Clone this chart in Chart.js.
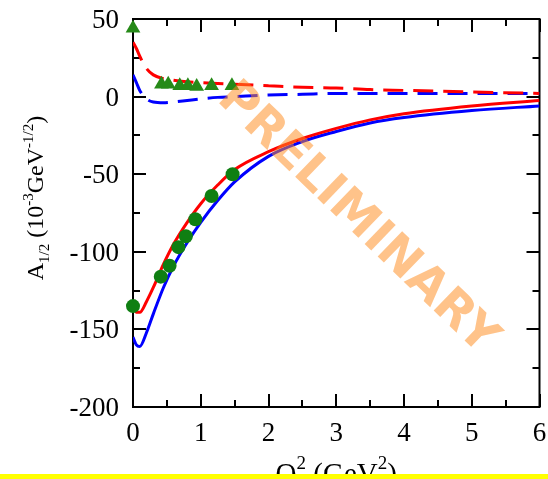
<!doctype html>
<html lang="en">

<head>
    <meta charset="utf-8">
    <title>A1/2 vs Q2</title>
    <script src="https://cdn.jsdelivr.net/npm/chart.js"></script>
    <style>
        body { margin: 0; background: #fff; }
        #wrap { position: relative; width: 548px; height: 479px; }
    </style>
</head>

<body>
    <div id="wrap"><canvas id="ampchart"></canvas></div>
</body>
<script>
    // Q^2 grid for the model curves (GeV^2)
    const q2Grid = [0, 0.05, 0.1, 0.2, 0.3, 0.45, 0.6, 0.8, 1.0, 1.25, 1.5, 2.0, 2.5, 3.0, 3.5, 4.0, 5.0, 6.0];
    const redSolid = [-135, -139, -139, -132, -123, -108, -95, -81, -69, -57, -47, -35.5, -27, -20.5, -15, -11, -6, -2.5];
    const blueSolid = [-155, -160, -161, -152, -140, -123, -109, -94, -81, -67, -55, -38.5, -29, -22.5, -17, -13.5, -9, -6];
    const redDashed = [35, 31, 26, 18, 14, 11.5, 10.5, 9.5, 9, 8.5, 8, 7, 6, 5.5, 4.5, 4, 3, 2];
    const blueDashed = [14, 9, 4, -1.5, -3.5, -4, -3.5, -2.5, -1.5, -0.5, 0, 1, 1.5, 2, 2, 2, 2, 2];

    // measured points
    const q2Circles = [0, 0.41, 0.54, 0.67, 0.78, 0.92, 1.16, 1.47];
    const a12Circles = [-135, -116, -109, -97, -90, -79, -64, -50];
    const q2Triangles = [0, 0.42, 0.52, 0.69, 0.81, 0.94, 1.16, 1.46];
    const valTriangles = [44, 8, 8, 7, 7, 6.5, 7, 7];

    const xTicks = [0, 1, 2, 3, 4, 5, 6];
    const yTicks = [50, 0, -50, -100, -150, -200];

    const serif = '"Liberation Serif", "DejaVu Serif", serif';

    let pairs = (xs, ys) => xs.map((x, i) => ({ x: x, y: ys[i] }));

    // text with sub/superscripts, drawn centred on (0,0)
    function drawRich(ctx, parts) {
        let total = 0;
        parts.forEach(p => {
            ctx.font = p.size + 'px ' + serif;
            p.w = ctx.measureText(p.t).width;
            total += p.w;
        });
        let x = -total / 2;
        parts.forEach(p => {
            ctx.font = p.size + 'px ' + serif;
            ctx.fillText(p.t, x, p.dy || 0);
            x += p.w;
        });
    }

    const framePlugin = {
        id: 'frame',
        beforeDatasetsDraw(chart) {
            const ctx = chart.ctx;
            const a = chart.chartArea;
            const xs = chart.scales.x, ys = chart.scales.y;
            ctx.save();
            ctx.strokeStyle = '#000';
            ctx.lineWidth = 2;
            ctx.strokeRect(a.left, a.top, a.right - a.left, a.bottom - a.top);
            ctx.beginPath();
            for (let v = -200; v <= 50; v += 25) {
                const len = v % 50 === 0 ? 13 : 7;
                const py = Math.round(ys.getPixelForValue(v));
                ctx.moveTo(a.left, py); ctx.lineTo(a.left + len, py);
                ctx.moveTo(a.right, py); ctx.lineTo(a.right - len, py);
            }
            for (let v = 0; v <= 6; v += 0.5) {
                const len = v % 1 === 0 ? 13 : 7;
                const px = Math.round(xs.getPixelForValue(v));
                ctx.moveTo(px, a.bottom); ctx.lineTo(px, a.bottom - len);
                ctx.moveTo(px, a.top); ctx.lineTo(px, a.top + len);
            }
            ctx.stroke();

            // tick labels
            ctx.fillStyle = '#000';
            ctx.font = '27px ' + serif;
            ctx.textAlign = 'right';
            ctx.textBaseline = 'alphabetic';
            yTicks.forEach(v => {
                ctx.fillText(String(v), a.left - 14, ys.getPixelForValue(v) + 9);
            });
            ctx.textAlign = 'center';
            xTicks.forEach(v => {
                ctx.fillText(String(v), xs.getPixelForValue(v), a.bottom + 34);
            });

            // axis titles
            ctx.textAlign = 'left';
            ctx.save();
            ctx.translate(43, 198);
            ctx.rotate(-Math.PI / 2);
            drawRich(ctx, [
                { t: 'A', size: 24 },
                { t: '1/2', size: 15, dy: 6 },
                { t: ' (10', size: 24 },
                { t: '-3', size: 15, dy: -10 },
                { t: 'GeV', size: 24 },
                { t: '-1/2', size: 15, dy: -10 },
                { t: ')', size: 24 }
            ]);
            ctx.restore();
            ctx.save();
            ctx.translate((a.left + a.right) / 2, 483);
            drawRich(ctx, [
                { t: 'Q', size: 29 },
                { t: '2', size: 19, dy: -14 },
                { t: ' (GeV', size: 29 },
                { t: '2', size: 19, dy: -14 },
                { t: ')', size: 29 }
            ]);
            ctx.restore();
            ctx.restore();
        },
        afterDatasetsDraw(chart) {
            // PRELIMINARY stamp across the plot, sized to a fixed length
            const ctx = chart.ctx;
            const word = 'PRELIMINARY';
            ctx.save();
            ctx.translate(357, 219);
            ctx.rotate(44 * Math.PI / 180);
            ctx.font = 'bold 50px "DejaVu Sans", sans-serif';
            const size = 50 * 368 / ctx.measureText(word).width;
            ctx.font = 'bold ' + size.toFixed(1) + 'px "DejaVu Sans", sans-serif';
            ctx.fillStyle = 'rgba(255, 140, 30, 0.52)';
            ctx.textAlign = 'center';
            ctx.textBaseline = 'middle';
            ctx.fillText(word, 0, 0);
            ctx.restore();
        },
        afterDraw(chart) {
            const ctx = chart.ctx;
            ctx.save();
            ctx.fillStyle = '#ffff00';
            ctx.fillRect(0, 474, chart.width, chart.height - 474);
            ctx.restore();
        }
    };

    const lineSet = (label, ys, color, dash) => ({
        label: label,
        data: pairs(q2Grid, ys),
        showLine: true,
        borderColor: color,
        borderWidth: 3,
        borderDash: dash,
        pointRadius: 0,
        cubicInterpolationMode: 'monotone',
        fill: false
    });

    new Chart(document.getElementById('ampchart'), {
        type: 'scatter',
        data: {
            datasets: [
                {
                    label: 'A1/2 data',
                    data: pairs(q2Circles, a12Circles),
                    pointStyle: 'circle',
                    pointRadius: 7,
                    backgroundColor: '#0f7f12',
                    borderWidth: 0,
                    clip: false
                },
                {
                    label: 'S1/2 data',
                    data: pairs(q2Triangles, valTriangles),
                    pointStyle: 'triangle',
                    pointRadius: 8.5,
                    backgroundColor: '#268a18',
                    borderWidth: 0,
                    clip: false
                },
                lineSet('red solid', redSolid, '#ff0000', []),
                lineSet('blue solid', blueSolid, '#0000ff', []),
                lineSet('red dashed', redDashed, '#ff0000', [20, 10]),
                lineSet('blue dashed', blueDashed, '#0000ff', [20, 10])
            ]
        },
        options: {
            responsive: true,
            maintainAspectRatio: false,
            animation: false,
            layout: { padding: { left: 133, right: 6, top: 19, bottom: 72 } },
            plugins: { legend: { display: false }, tooltip: { enabled: false } },
            scales: {
                x: { type: 'linear', min: 0, max: 6, display: false },
                y: { type: 'linear', min: -200, max: 50, display: false }
            }
        },
        plugins: [framePlugin]
    });
</script>

</html>
